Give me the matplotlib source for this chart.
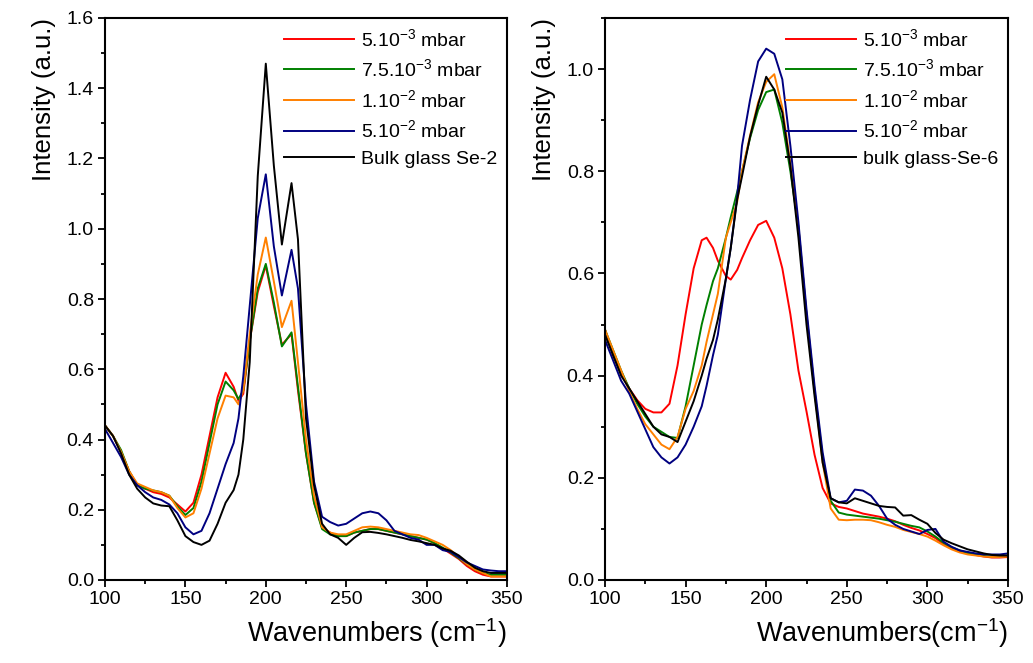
import matplotlib
matplotlib.use("Agg")
import matplotlib.pyplot as plt
from matplotlib.ticker import MultipleLocator, FormatStrFormatter

plt.rcParams['font.family'] = ['Liberation Sans', 'DejaVu Sans']
plt.rcParams['mathtext.fontset'] = 'custom'
plt.rcParams['mathtext.rm'] = 'Liberation Sans'
plt.rcParams['mathtext.it'] = 'Liberation Sans:italic'
plt.rcParams['mathtext.bf'] = 'Liberation Sans:bold'

# ---------------- Left panel data ----------------
x_left = [100, 105, 110, 115, 120, 125, 130, 135, 140, 145, 150, 155, 160, 165, 170, 175,
          180, 183, 186, 190, 195, 200, 205, 210, 216, 220, 225, 230, 235, 240, 245, 250,
          255, 260, 265, 270, 275, 280, 285, 290, 295, 300, 305, 310, 315, 320, 325, 330,
          335, 340, 345, 350]
left_red = [0.44, 0.41, 0.365, 0.31, 0.27, 0.26, 0.25, 0.245, 0.235, 0.215, 0.195, 0.22, 0.30, 0.41, 0.52, 0.59,
            0.55, 0.51, 0.53, 0.68, 0.82, 0.895, 0.78, 0.67, 0.70, 0.54, 0.36, 0.22, 0.15, 0.135, 0.125, 0.125,
            0.135, 0.14, 0.145, 0.145, 0.14, 0.135, 0.13, 0.125, 0.12, 0.115, 0.105, 0.09, 0.075, 0.06, 0.04, 0.025,
            0.015, 0.01, 0.01, 0.01]
left_green = [0.44, 0.41, 0.37, 0.31, 0.27, 0.26, 0.255, 0.25, 0.24, 0.21, 0.185, 0.205, 0.28, 0.39, 0.50, 0.565,
              0.54, 0.515, 0.54, 0.68, 0.83, 0.90, 0.79, 0.665, 0.705, 0.55, 0.36, 0.22, 0.145, 0.13, 0.125, 0.125,
              0.135, 0.14, 0.145, 0.145, 0.14, 0.135, 0.13, 0.125, 0.12, 0.115, 0.105, 0.092, 0.078, 0.062, 0.045, 0.03,
              0.02, 0.015, 0.015, 0.015]
left_orange = [0.44, 0.41, 0.365, 0.31, 0.275, 0.265, 0.255, 0.25, 0.24, 0.205, 0.178, 0.19, 0.26, 0.36, 0.46, 0.525,
               0.52, 0.50, 0.54, 0.70, 0.87, 0.975, 0.85, 0.72, 0.795, 0.62, 0.40, 0.24, 0.15, 0.135, 0.13, 0.13,
               0.14, 0.15, 0.152, 0.15, 0.145, 0.14, 0.135, 0.13, 0.128, 0.12, 0.11, 0.10, 0.085, 0.065, 0.045, 0.03,
               0.02, 0.01, 0.01, 0.01]
left_blue = [0.43, 0.39, 0.35, 0.30, 0.27, 0.25, 0.235, 0.228, 0.215, 0.19, 0.15, 0.13, 0.14, 0.19, 0.26, 0.33,
             0.39, 0.46, 0.58, 0.78, 1.03, 1.155, 0.95, 0.81, 0.94, 0.83, 0.50, 0.28, 0.18, 0.165, 0.155, 0.16,
             0.175, 0.19, 0.195, 0.19, 0.17, 0.14, 0.13, 0.12, 0.115, 0.10, 0.10, 0.085, 0.08, 0.065, 0.05, 0.04,
             0.03, 0.027, 0.025, 0.025]
left_black = [0.44, 0.41, 0.36, 0.30, 0.26, 0.235, 0.218, 0.212, 0.21, 0.17, 0.125, 0.108, 0.10, 0.112, 0.16, 0.22,
              0.256, 0.30, 0.40, 0.62, 1.15, 1.47, 1.18, 0.955, 1.13, 0.97, 0.46, 0.27, 0.16, 0.13, 0.12, 0.10,
              0.12, 0.136, 0.137, 0.134, 0.13, 0.125, 0.12, 0.114, 0.11, 0.105, 0.10, 0.09, 0.083, 0.07, 0.052, 0.035,
              0.025, 0.02, 0.02, 0.02]
left_labels = [r'5.10$^{-3}$ mbar', r'7.5.10$^{-3}$ mbar', r'1.10$^{-2}$ mbar',
               r'5.10$^{-2}$ mbar', 'Bulk glass Se-2']

# ---------------- Right panel data ----------------
x_right = [100, 105, 110, 115, 120, 125, 130, 135, 140, 145, 150, 155, 160, 163, 167, 170, 175, 178,
           182, 185, 190, 195, 200, 205, 210, 215, 220, 225, 230, 235, 240, 245, 250, 255, 260, 265,
           270, 275, 280, 285, 290, 295, 300, 305, 310, 315, 320, 325, 330, 335, 340, 345, 350]
right_red = [0.49, 0.44, 0.405, 0.375, 0.352, 0.335, 0.328, 0.328, 0.345, 0.42, 0.52, 0.61, 0.665, 0.67, 0.65, 0.625, 0.595, 0.588,
             0.607, 0.63, 0.665, 0.695, 0.703, 0.67, 0.61, 0.52, 0.41, 0.33, 0.245, 0.18, 0.15, 0.143, 0.14, 0.135, 0.13, 0.127,
             0.124, 0.12, 0.115, 0.108, 0.102, 0.097, 0.09, 0.082, 0.07, 0.062, 0.056, 0.052, 0.049, 0.046, 0.044, 0.044, 0.045]
right_green = [0.49, 0.45, 0.41, 0.375, 0.345, 0.32, 0.30, 0.29, 0.28, 0.278, 0.34, 0.42, 0.50, 0.538, 0.585, 0.61, 0.67, 0.71,
               0.76, 0.80, 0.865, 0.92, 0.955, 0.96, 0.895, 0.80, 0.69, 0.52, 0.37, 0.24, 0.155, 0.132, 0.128, 0.126, 0.124, 0.122,
               0.12, 0.117, 0.114, 0.11, 0.106, 0.103, 0.095, 0.085, 0.073, 0.064, 0.058, 0.053, 0.05, 0.047, 0.046, 0.046, 0.047]
right_orange = [0.49, 0.45, 0.41, 0.37, 0.335, 0.305, 0.285, 0.265, 0.256, 0.28, 0.335, 0.37, 0.42, 0.466, 0.52, 0.56, 0.67, 0.70,
                0.74, 0.80, 0.87, 0.935, 0.975, 0.99, 0.925, 0.815, 0.69, 0.52, 0.37, 0.23, 0.14, 0.118, 0.117, 0.118, 0.118, 0.117,
                0.113, 0.108, 0.104, 0.098, 0.094, 0.09, 0.085, 0.077, 0.068, 0.06, 0.054, 0.05, 0.048, 0.046, 0.045, 0.045, 0.046]
right_blue = [0.47, 0.43, 0.39, 0.365, 0.33, 0.295, 0.26, 0.24, 0.228, 0.24, 0.265, 0.30, 0.34, 0.38, 0.44, 0.48, 0.59, 0.65,
              0.75, 0.85, 0.94, 1.015, 1.04, 1.03, 0.98, 0.85, 0.70, 0.53, 0.38, 0.25, 0.16, 0.152, 0.155, 0.177, 0.175, 0.165,
              0.145, 0.12, 0.108, 0.10, 0.095, 0.09, 0.098, 0.10, 0.075, 0.065, 0.058, 0.055, 0.052, 0.05, 0.05, 0.05, 0.052]
right_black = [0.48, 0.44, 0.40, 0.375, 0.35, 0.325, 0.30, 0.285, 0.28, 0.27, 0.31, 0.35, 0.40, 0.433, 0.47, 0.51, 0.59, 0.65,
               0.745, 0.79, 0.868, 0.93, 0.985, 0.96, 0.915, 0.81, 0.67, 0.50, 0.36, 0.23, 0.16, 0.152, 0.15, 0.16, 0.155, 0.15,
               0.145, 0.143, 0.142, 0.126, 0.127, 0.118, 0.11, 0.092, 0.079, 0.072, 0.066, 0.06, 0.056, 0.052, 0.049, 0.048, 0.048]
right_labels = [r'5.10$^{-3}$ mbar', r'7.5.10$^{-3}$ mbar', r'1.10$^{-2}$ mbar',
                r'5.10$^{-2}$ mbar', 'bulk glass-Se-6']

colors = ['#ff0000', '#008000', '#ff8000', '#000080', '#000000']

fig = plt.figure(figsize=(10.33, 6.63), dpi=100)
axL = fig.add_axes([105 / 1033, 1 - 580 / 663, 402 / 1033, 562 / 663])
axR = fig.add_axes([605 / 1033, 1 - 580 / 663, 403 / 1033, 562 / 663])


def style(ax, ymax, ymajor, xlabel):
    ax.set_xlim(100, 350)
    ax.set_ylim(0, ymax)
    ax.xaxis.set_major_locator(MultipleLocator(50))
    ax.xaxis.set_minor_locator(MultipleLocator(25))
    ax.yaxis.set_major_locator(MultipleLocator(ymajor))
    ax.yaxis.set_minor_locator(MultipleLocator(ymajor / 2))
    ax.yaxis.set_major_formatter(FormatStrFormatter('%.1f'))
    ax.tick_params(which='major', direction='out', length=5, width=1.3, labelsize=14, pad=3)
    ax.tick_params(which='minor', direction='out', length=3, width=1.3)
    for s in ax.spines.values():
        s.set_linewidth(1.5)
    ax.set_xlabel(xlabel, fontsize=19.5, labelpad=6, loc='right')
    ax.set_ylabel('Intensity (a.u.)', fontsize=18.5, labelpad=8, loc='top')


for ys, c, lab in zip([left_red, left_green, left_orange, left_blue, left_black], colors, left_labels):
    axL.plot(x_left, ys, color=c, lw=1.4, label=lab)
for ys, c, lab in zip([right_red, right_green, right_orange, right_blue, right_black], colors, right_labels):
    axR.plot(x_right, ys, color=c, lw=1.4, label=lab)

style(axL, 1.6, 0.2, r'Wavenumbers (cm$^{-1}$)')
style(axR, 1.1, 0.2, r'Wavenumbers(cm$^{-1}$)')

for ax in (axL, axR):
    ax.legend(loc='upper right', frameon=False, fontsize=14, handlelength=3.6,
              handletextpad=0.35, labelspacing=0.45, borderaxespad=0.1)

fig.savefig('out.png', dpi=100)
